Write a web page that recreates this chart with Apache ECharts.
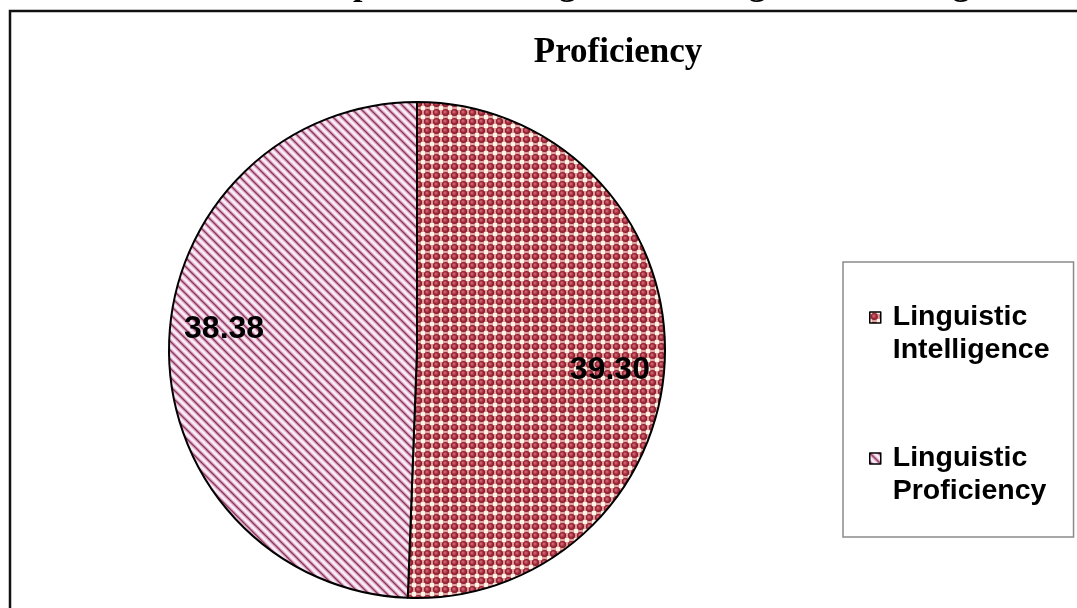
<!DOCTYPE html>
<html>
<head>
<meta charset="utf-8">
<script src="https://cdn.jsdelivr.net/npm/echarts@6/dist/echarts.min.js"></script>
<style>
  html, body { margin: 0; padding: 0; background: #fff; }
  #chart { width: 1077px; height: 608px; }
</style>
</head>
<body>
<div id="chart"></div>
<script>
// data
let names = ['Linguistic Intelligence', 'Linguistic Proficiency']
let values = [39.30, 38.38]
let titleLines = ['Relationship between Linguistic Intelligence and Linguistic', 'Proficiency']

// dotted fill (first slice)
function dotPattern () {
  let c = document.createElement('canvas')
  c.width = c.height = 9
  let g = c.getContext('2d')
  g.fillStyle = '#e2a2a0'
  g.fillRect(0, 0, 9, 9)
  g.fillStyle = '#fff2e6'
  g.fillRect(0, 0, 2, 2)
  g.fillRect(7, 0, 2, 2)
  g.fillRect(0, 7, 2, 2)
  g.fillRect(7, 7, 2, 2)
  let grad = g.createRadialGradient(3.8, 3.8, 0.5, 4.5, 4.5, 3.7)
  grad.addColorStop(0, '#d06474')
  grad.addColorStop(0.6, '#a02636')
  grad.addColorStop(1, '#781826')
  g.fillStyle = grad
  g.beginPath()
  g.arc(4.5, 4.5, 3.6, 0, Math.PI * 2)
  g.fill()
  return c
}

// diagonal stripes (second slice)
function stripePattern () {
  let s = 9
  let c = document.createElement('canvas')
  c.width = c.height = s
  let g = c.getContext('2d')
  g.fillStyle = '#f6f0f6'
  g.fillRect(0, 0, s, s)
  let pass = [[4, '#e8aed0'], [1.3, '#843a58']]
  pass.forEach(p => {
    g.lineWidth = p[0]
    g.strokeStyle = p[1]
    for (let k = -1; k <= 1; k++) {
      g.beginPath()
      g.moveTo(k * s - 1, -1)
      g.lineTo(k * s + s + 1, s + 1)
      g.stroke()
    }
  })
  return c
}

function drawPie (ele) {
  let myChart = echarts.init(ele)
  let fills = [
    { image: dotPattern(), repeat: 'repeat' },
    { image: stripePattern(), repeat: 'repeat' }
  ]
  let center = [417, 350]
  let legendFont = {
    fontFamily: 'Liberation Sans',
    fontWeight: 'bold',
    fontSize: 28.5,
    lineHeight: 33,
    color: '#000'
  }
  myChart.setOption({
    animation: false,
    title: [{
      text: titleLines[0],
      left: 613,
      top: -36,
      textAlign: 'center',
      textStyle: { fontFamily: 'Liberation Serif', fontWeight: 'bold', fontSize: 34, color: '#000' }
    }, {
      text: titleLines[1],
      left: 613,
      top: 30,
      textAlign: 'center',
      textStyle: { fontFamily: 'Liberation Serif', fontWeight: 'bold', fontSize: 35, color: '#000' }
    }],
    graphic: [{
      type: 'rect',
      shape: { x: 10, y: 11, width: 1200, height: 700 },
      style: { fill: 'none', stroke: '#111', lineWidth: 2.5 },
      z: -1
    }],
    legend: {
      data: names,
      orient: 'vertical',
      left: 843,
      top: 262,
      itemWidth: 11,
      itemHeight: 11,
      itemGap: 42,
      padding: [6, 24, 29, 26],
      backgroundColor: '#fff',
      borderColor: '#8a8a8a',
      borderWidth: 1.5,
      borderRadius: 0,
      icon: 'rect',
      selectedMode: false,
      itemStyle: { borderColor: '#000', borderWidth: 1.5 },
      // blank first line keeps the icon level with the first word
      formatter: n => '\n' + n.split(' ').map(w => '{t|' + w + '}').join('\n'),
      textStyle: Object.assign({
        rich: { t: Object.assign({ padding: [0, 0, 0, 7] }, legendFont) }
      }, legendFont)
    },
    series: [{
      type: 'pie',
      center,
      radius: 248,
      startAngle: 90,
      clockwise: true,
      silent: true,
      label: { show: false },
      labelLine: { show: false },
      itemStyle: { borderColor: '#000', borderWidth: 2 },
      data: names.map((n, i) => ({ name: n, value: values[i], itemStyle: { color: fills[i] } }))
    }, {
      // label ring, turned a little so the numbers sit where the picture has them
      type: 'pie',
      center,
      radius: [134, 248],
      startAngle: 85,
      clockwise: true,
      silent: true,
      itemStyle: { color: 'rgba(0,0,0,0)', borderWidth: 0 },
      label: {
        show: true,
        position: 'inside',
        formatter: p => p.value.toFixed(2),
        fontFamily: 'Liberation Sans',
        fontWeight: 'bold',
        fontSize: 32,
        color: '#000'
      },
      labelLine: { show: false },
      data: names.map((n, i) => ({ name: n, value: values[i] }))
    }]
  })
  return myChart
}

drawPie(document.getElementById('chart'))
</script>
</body>
</html>
